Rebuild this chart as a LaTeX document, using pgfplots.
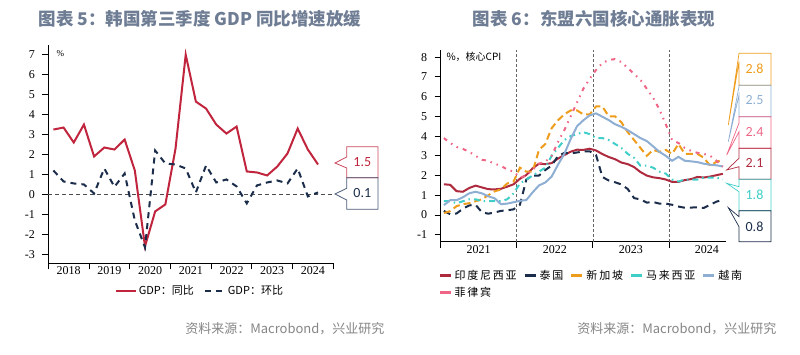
\documentclass[border=0pt]{standalone}
\usepackage{fontspec}
\usepackage{pgfplots}
\usepackage{pgfplotstable}
\pgfplotsset{compat=1.18}
\setmainfont{Liberation Serif}
\newfontfamily\cjk{Noto Sans CJK SC}
\newfontfamily\cjkls{Noto Sans CJK SC}[LetterSpace=16]
\newfontfamily\calfont{Carlito}
\definecolor{gdpred}{HTML}{C0253D}
\definecolor{navy}{HTML}{1B2D4B}
\definecolor{idr}{HTML}{AE2A3E}
\definecolor{sgo}{HTML}{EE9C1C}
\definecolor{myt}{HTML}{40CEC8}
\definecolor{vnb}{HTML}{8EAFD3}
\definecolor{php}{HTML}{EE6585}
\definecolor{ttl}{HTML}{6E7D94}
\definecolor{src}{HTML}{858585}
\definecolor{boxnavy}{HTML}{4A5A78}

\pgfplotstableread{
m idn tha sgp mys vnm phl
0 1.56 0.21 0.10 0.70 0.50 3.90
1 1.53 0.04 0.20 0.70 0.75 3.65
2 1.21 0.08 0.45 0.60 0.75 3.45
3 1.18 0.32 0.55 0.70 0.90 3.35
4 1.37 0.49 0.60 0.80 1.10 3.20
5 1.49 0.52 0.70 0.80 1.18 3.00
6 1.40 0.14 0.80 0.70 1.10 2.80
7 1.31 0.07 1.00 0.70 0.95 2.75
8 1.30 0.13 1.20 0.70 0.85 2.60
9 1.33 0.21 1.30 0.70 0.55 2.50
10 1.44 0.24 1.60 0.80 0.58 2.30
11 1.56 0.29 1.70 1.10 0.65 2.20
12 1.84 0.52 2.40 1.60 0.72 1.90
13 2.03 1.80 2.20 1.80 0.76 2.00
14 2.37 2.00 2.20 2.00 1.15 2.30
15 2.60 2.00 3.30 2.20 1.50 2.60
16 2.58 2.28 3.60 2.40 1.65 2.70
17 2.63 2.51 4.40 3.00 1.95 3.00
18 2.86 2.99 4.80 3.40 2.55 3.70
19 3.04 3.15 5.10 3.80 3.10 4.30
20 3.21 3.12 5.30 4.00 3.85 5.00
21 3.31 3.17 5.30 4.10 4.50 5.70
22 3.30 3.22 5.10 4.20 4.80 6.40
23 3.36 3.23 5.10 4.10 5.05 6.90
24 3.27 3.04 5.50 3.90 5.15 7.35
25 3.09 1.93 5.50 3.90 4.98 7.70
26 2.94 1.75 5.00 3.80 4.81 7.85
27 2.83 1.66 5.00 3.60 4.60 7.90
28 2.66 1.55 4.70 3.40 4.47 7.75
29 2.58 1.32 4.20 3.10 4.30 7.45
30 2.43 0.86 3.80 2.90 4.10 7.15
31 2.18 0.79 3.40 2.50 3.90 6.85
32 2.00 0.63 3.00 2.50 3.75 6.40
33 1.91 0.66 3.30 2.40 3.48 5.95
34 1.87 0.58 3.20 2.20 3.20 5.35
35 1.80 0.58 3.30 2.10 3.00 4.60
36 1.68 0.52 3.10 1.80 2.75 3.80
37 1.68 0.43 3.60 1.70 2.95 3.65
38 1.77 0.37 3.10 1.80 2.75 3.40
39 1.82 0.38 3.10 1.80 2.72 3.25
40 1.93 0.39 3.10 1.80 2.68 3.15
41 1.90 0.36 2.90 1.90 2.60 3.10
42 1.95 0.52 2.50 1.90 2.55 3.00
43 2.02 0.68 2.70 1.90 2.52 2.75
44 2.09 0.77 2.80 1.80 2.46 2.45
}\asean

\begin{document}
\begin{tikzpicture}[x=1pt,y=1pt]
\useasboundingbox (0,0) rectangle (800,354);

% titles
\node[text=ttl, font=\cjk\bfseries\fontsize{17.5}{18}\selectfont] at (200,335) {图表 5：韩国第三季度 GDP 同比增速放缓};
\node[text=ttl, font=\cjk\bfseries\fontsize{17.5}{18}\selectfont] at (594,335) {图表 6：东盟六国核心通胀表现};

% ---------------- left chart ----------------
\begin{axis}[
  at={(48.3pt,90.7pt)}, anchor=south west,
  scale only axis, width=285pt, height=218.6pt,
  xmin=2018, xmax=2025, ymin=-3.45, ymax=7.5,
  axis x line=bottom, axis y line=left,
  axis line style={line width=0.8pt, -},
  every tick/.style={black, line width=0.8pt},
  tick align=outside, major tick length=6pt,
  xtick={2018,...,2025}, xticklabels={},
  extra x ticks={2018.5,2019.5,2020.5,2021.5,2022.5,2023.5,2024.5},
  extra x tick labels={2018,2019,2020,2021,2022,2023,2024},
  extra x tick style={major tick length=0pt},
  ytick={-3,-2,...,7},
  /pgf/number format/assume math mode=true,
  ticklabel style={font=\fontsize{12}{12}\selectfont},
  yticklabel style={xshift=-4pt},
  clip=false,
  legend style={at={(0.532,-0.127)}, anchor=center, draw=none, fill=none,
    font=\cjk\fontsize{11}{12}\selectfont, legend columns=2,
    /tikz/every even column/.append style={column sep=8pt}},
  legend image code/.code={\draw[#1] (0pt,0pt) -- (20pt,0pt);},
]
\draw[gray!60!black, line width=0.6pt, dash pattern=on 4pt off 3pt] (axis cs:2018,0) -- (axis cs:2025,0);
\addplot[gdpred, line width=2pt] coordinates {
(2018.125,3.25)(2018.375,3.35)(2018.625,2.6)(2018.875,3.5)
(2019.125,1.9)(2019.375,2.35)(2019.625,2.25)(2019.875,2.75)
(2020.125,1.2)(2020.375,-2.6)(2020.625,-0.85)(2020.875,-0.5)
(2021.125,2.3)(2021.375,7.0)(2021.625,4.65)(2021.875,4.3)
(2022.125,3.5)(2022.375,3.05)(2022.625,3.4)(2022.875,1.15)
(2023.125,1.1)(2023.375,0.95)(2023.625,1.4)(2023.875,2.05)
(2024.125,3.3)(2024.375,2.25)(2024.625,1.5)};
\addlegendentry{GDP：同比}
\addplot[navy, line width=2pt, dash pattern=on 6pt off 5pt] coordinates {
(2018.125,1.2)(2018.375,0.65)(2018.625,0.55)(2018.875,0.5)
(2019.125,0.05)(2019.375,1.3)(2019.625,0.38)(2019.875,1.05)
(2020.125,-1.3)(2020.375,-2.65)(2020.625,2.2)(2020.875,1.55)
(2021.125,1.5)(2021.375,1.3)(2021.625,0.1)(2021.875,1.45)
(2022.125,0.6)(2022.375,0.75)(2022.625,0.4)(2022.875,-0.45)
(2023.125,0.45)(2023.375,0.6)(2023.625,0.7)(2023.875,0.55)
(2024.125,1.3)(2024.375,-0.1)(2024.625,0.1)};
\addlegendentry{GDP：环比}
\end{axis}
\node[anchor=west, font=\fontsize{9}{9}\selectfont] at (53,300) {\%};

% left callouts
\draw[gdpred!85!white, line width=0.8pt] (346.7,197) -- (346.7,207.3) -- (378,207.3) -- (378,176.3) -- (346.7,176.3) -- (346.7,186) -- (335,191) -- cycle;
\node[text=gdpred, font=\calfont\fontsize{14}{14}\selectfont] at (362.3,191.8) {1.5};
\draw[boxnavy, line width=0.8pt] (346.7,165.7) -- (346.7,176.3) -- (378,176.3) -- (378,144.7) -- (346.7,144.7) -- (346.7,154) -- (335,160) -- cycle;
\node[text=navy, font=\calfont\fontsize{14}{14}\selectfont] at (362.3,160.5) {0.1};

% ---------------- right chart ----------------
\begin{axis}[
  at={(440.7pt,112.3pt)}, anchor=south west,
  scale only axis, width=285.3pt, height=191.7pt,
  xmin=-0.5, xmax=44.5, ymin=-1.35, ymax=8.36,
  axis x line=bottom, axis y line=left,
  axis line style={line width=0.8pt, -},
  every tick/.style={black, line width=0.8pt},
  tick align=outside, major tick length=6pt,
  xtick={-0.5,11.5,23.5,35.5}, xticklabels={},
  extra x ticks={5.5,17.5,29.5,41.5},
  extra x tick labels={2021,2022,2023,2024},
  extra x tick style={major tick length=0pt},
  ytick={-1,0,...,8},
  /pgf/number format/assume math mode=true,
  ticklabel style={font=\fontsize{12}{12}\selectfont},
  yticklabel style={xshift=-4pt},
  clip=false,
  legend style={at={(-0.02,-0.125)}, anchor=north west, draw=none, fill=none,
    font=\cjkls\fontsize{11}{12}\selectfont, legend columns=5,
    nodes={inner sep=2.5pt},
    /tikz/every even column/.append style={column sep=4pt},
    row sep=1pt},
  legend image code/.code={\draw[#1, solid, line width=3pt, line cap=butt] (0pt,0pt) -- (11pt,0pt);},
  legend cell align=left,
]
\draw[gray!80!black, line width=0.7pt, dash pattern=on 3pt off 2pt] (axis cs:11.5,-1.35) -- (axis cs:11.5,8.36);
\draw[gray!80!black, line width=0.7pt, dash pattern=on 3pt off 2pt] (axis cs:23.5,-1.35) -- (axis cs:23.5,8.36);
\draw[gray!80!black, line width=0.7pt, dash pattern=on 3pt off 2pt] (axis cs:35.5,-1.35) -- (axis cs:35.5,8.36);
\addplot[idr, line width=2pt] table[x=m, y=idn] {\asean};
\addlegendentry{印度尼西亚}
\addplot[navy, line width=2pt, dash pattern=on 7pt off 5pt] table[x=m, y=tha] {\asean};
\addlegendentry{泰国}
\addplot[sgo, line width=2pt, dash pattern=on 7pt off 4pt] table[x=m, y=sgp] {\asean};
\addlegendentry{新加坡}
\addplot[myt, line width=2pt, dash pattern=on 6pt off 4pt on 1.5pt off 4pt] table[x=m, y=mys] {\asean};
\addlegendentry{马来西亚}
\addplot[vnb, line width=2pt] table[x=m, y=vnm] {\asean};
\addlegendentry{越南}
\addplot[php, line width=2pt, dash pattern=on 4pt off 5pt on 1.5pt off 5pt on 1.5pt off 5pt] table[x=m, y=phl] {\asean};
\addlegendentry{菲律宾}
\end{axis}
\node[anchor=west, font=\cjk\fontsize{10}{10}\selectfont] at (443,297) {\%，核心CPI};

% right callouts
\draw[sgo, line width=0.7pt] (739,300.7) -- (771,300.7) -- (771,268.7) -- (739,268.7) -- (739,292.3) -- (728.3,229) -- cycle;
\node[text=sgo, font=\calfont\fontsize{14}{14}\selectfont] at (754.5,285.7) {2.8};
\draw[vnb, line width=0.7pt] (739,267.3) -- (739,268.7) -- (771,268.7) -- (771,237.3) -- (739,237.3) -- (739,259) -- (728.3,212.3) -- cycle;
\node[text=vnb, font=\calfont\fontsize{14}{14}\selectfont] at (754.5,254) {2.5};
\draw[php, line width=0.7pt] (739,231) -- (739,237.3) -- (771,237.3) -- (771,205.7) -- (739,205.7) -- (739,222.3) -- (726.7,199) -- cycle;
\node[text=php, font=\calfont\fontsize{14}{14}\selectfont] at (754.5,221.7) {2.4};
\draw[idr, line width=0.7pt] (739,195.7) -- (739,205.7) -- (771,205.7) -- (771,174.7) -- (739,174.7) -- (739,187.3) -- (726.7,184) -- cycle;
\node[text=idr, font=\calfont\fontsize{14}{14}\selectfont] at (754.5,190.7) {2.1};
\draw[myt, line width=0.7pt] (739,167.3) -- (739,174.7) -- (771,174.7) -- (771,143.3) -- (739,143.3) -- (739,162.3) -- (726.7,170.7) -- cycle;
\node[text=myt, font=\calfont\fontsize{14}{14}\selectfont] at (754.5,159) {1.8};
\draw[navy, line width=0.7pt] (739,137.3) -- (739,143.3) -- (771,143.3) -- (771,112.3) -- (739,112.3) -- (739,127.3) -- (728.3,146.3) -- cycle;
\node[text=navy, font=\calfont\fontsize{14}{14}\selectfont] at (754.5,127.3) {0.8};

% sources
\node[anchor=east, text=src, font=\cjk\fontsize{13}{13}\selectfont] at (388,25) {资料来源：Macrobond，兴业研究};
\node[anchor=east, text=src, font=\cjk\fontsize{13}{13}\selectfont] at (780,25) {资料来源：Macrobond，兴业研究};
\end{tikzpicture}
\end{document}
